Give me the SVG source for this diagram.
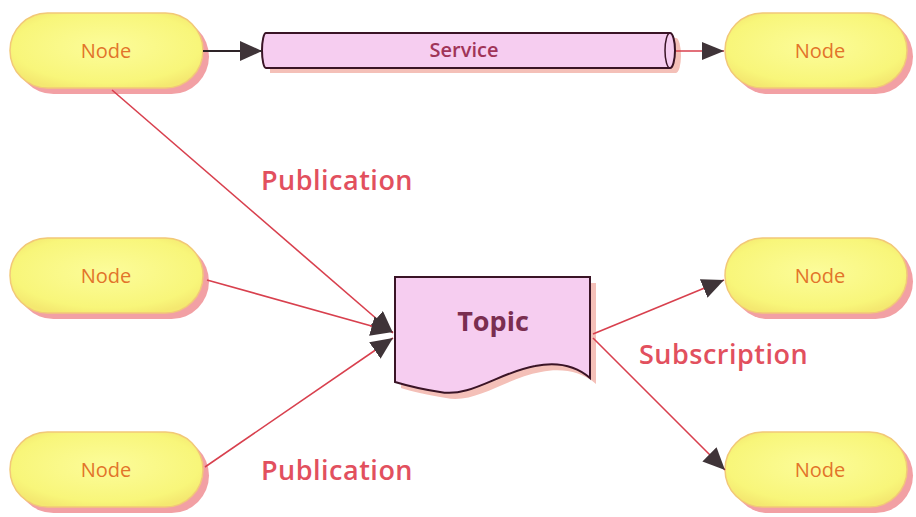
<svg xmlns="http://www.w3.org/2000/svg" width="916" height="517" viewBox="0 0 916 517">
  <defs>
    <radialGradient id="nodeFill" cx="0.5" cy="0.45" r="0.6">
      <stop offset="0" stop-color="#fcfc9a"/>
      <stop offset="0.8" stop-color="#f8f67a"/>
      <stop offset="1" stop-color="#f4e870"/>
    </radialGradient>
    <marker id="arrow" viewBox="0 0 22 20" refX="22" refY="10" markerWidth="22" markerHeight="20" markerUnits="userSpaceOnUse" orient="auto">
      <path d="M0,0 L22,10 L0,20 Z" fill="#3f3438"/>
    </marker>
    <marker id="arrowSmall" viewBox="0 0 22 18" refX="22" refY="9" markerWidth="22" markerHeight="18" markerUnits="userSpaceOnUse" orient="auto">
      <path d="M0,0 L22,9 L0,18 Z" fill="#3f3438"/>
    </marker>
  </defs>
  <style>
    .shadow { fill: #f2a0a4; }
    .node { fill: url(#nodeFill); stroke: #f2c878; stroke-width: 1.5; }
    .nodeText { font-family: "Open Sans", "Liberation Sans", sans-serif; font-size: 20px; fill: #e2742a; text-anchor: middle; }
    .pinkBox { fill: #f6cdf0; stroke: #3a1426; stroke-width: 2; }
    .pinkShadow { fill: #f4c0b8; }
    .label { font-family: "Open Sans", "Liberation Sans", sans-serif; font-size: 27px; font-weight: 600; letter-spacing: 0.5px; fill: #e2505e; }
    .edge { fill: none; stroke: #d8404e; stroke-width: 1.6; }
    .edgeDark { fill: none; stroke: #2e2428; stroke-width: 2; }
  </style>

  <rect width="916" height="517" fill="#ffffff"/>

  <!-- nodes -->
  <g id="node-top-left">
    <rect class="shadow" x="16" y="19" width="193" height="75" rx="37.5"/>
    <rect class="node" x="10" y="13" width="193" height="75" rx="37.5"/>
    <text class="nodeText" x="106" y="58">Node</text>
  </g>
  <g id="node-mid-left">
    <rect class="shadow" x="16" y="244" width="193" height="75" rx="37.5"/>
    <rect class="node" x="10" y="238" width="193" height="75" rx="37.5"/>
    <text class="nodeText" x="106" y="283">Node</text>
  </g>
  <g id="node-bottom-left">
    <rect class="shadow" x="16" y="438" width="193" height="75" rx="37.5"/>
    <rect class="node" x="10" y="432" width="193" height="75" rx="37.5"/>
    <text class="nodeText" x="106" y="477">Node</text>
  </g>
  <g id="node-top-right">
    <rect class="shadow" x="731" y="19" width="182" height="75" rx="37.5"/>
    <rect class="node" x="725" y="13" width="182" height="75" rx="37.5"/>
    <text class="nodeText" x="820" y="58">Node</text>
  </g>
  <g id="node-mid-right">
    <rect class="shadow" x="731" y="244" width="182" height="75" rx="37.5"/>
    <rect class="node" x="725" y="238" width="182" height="75" rx="37.5"/>
    <text class="nodeText" x="820" y="283">Node</text>
  </g>
  <g id="node-bottom-right">
    <rect class="shadow" x="731" y="438" width="182" height="75" rx="37.5"/>
    <rect class="node" x="725" y="432" width="182" height="75" rx="37.5"/>
    <text class="nodeText" x="820" y="477">Node</text>
  </g>

  <!-- service pipe -->
  <g id="service">
    <path class="pinkShadow" d="M270,38 L676,38 A5,17.5 0 0 1 676,73 L270,73 Z"/>
    <path class="pinkBox" d="M266,33 L670,33 A5,17.5 0 0 1 670,68 L266,68 A4,17.5 0 0 1 266,33 Z"/>
    <path d="M670,33 A5,17.5 0 0 0 670,68" fill="none" stroke="#3a1426" stroke-width="1.5"/>
    <text x="464" y="57" text-anchor="middle" font-family="'Open Sans', 'Liberation Sans', sans-serif" font-size="20" font-weight="600" fill="#a03458">Service</text>
  </g>

  <!-- topic document -->
  <g id="topic">
    <path class="pinkShadow" d="M401,283 H596 V384 C581,371 561,368 541,372 C506,378 476,404 446,398 C426,395 411,391 401,388 Z"/>
    <path class="pinkBox" d="M395,277 H590 V378 C575,365 555,362 535,366 C500,372 470,398 440,392 C420,389 405,385 395,382 Z"/>
    <text x="493" y="331" text-anchor="middle" font-family="'Open Sans', 'Liberation Sans', sans-serif" font-size="27" font-weight="700" fill="#7a2e50">Topic</text>
  </g>

  <!-- connectors -->
  <g id="connectors">
    <line class="edgeDark" x1="203" y1="51" x2="262" y2="51" marker-end="url(#arrow)"/>
    <line class="edge" x1="676" y1="51" x2="724" y2="51" marker-end="url(#arrowSmall)"/>
    <line class="edge" x1="112" y1="90" x2="393" y2="333" marker-end="url(#arrow)"/>
    <line class="edge" x1="207" y1="280" x2="393" y2="332" marker-end="url(#arrow)"/>
    <line class="edge" x1="205" y1="467" x2="393" y2="338" marker-end="url(#arrow)"/>
    <line class="edge" x1="593" y1="334" x2="724" y2="280" marker-end="url(#arrow)"/>
    <line class="edge" x1="593" y1="338" x2="725" y2="470" marker-end="url(#arrow)"/>
  </g>

  <!-- edge labels -->
  <g id="labels">
    <text class="label" x="261" y="190">Publication</text>
    <text class="label" x="261" y="480">Publication</text>
    <text class="label" x="639" y="364">Subscription</text>
  </g>
</svg>
